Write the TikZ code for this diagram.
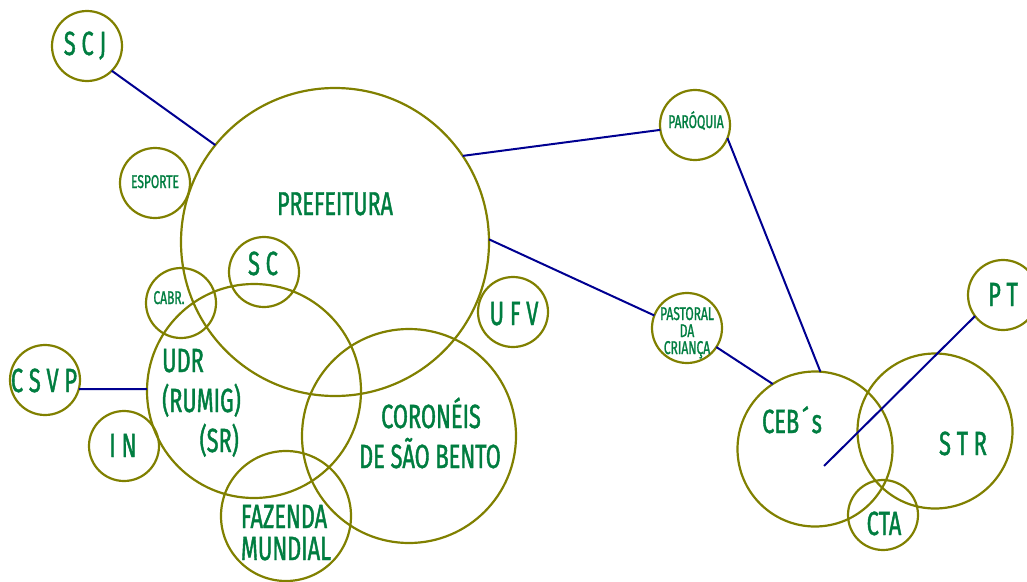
\documentclass[tikz,border=0pt]{standalone}
\usepackage{fontspec}
\setmainfont[FakeStretch=0.65,FakeBold=1.2]{Fira Sans}
\definecolor{olivering}{RGB}{128,128,0}
\definecolor{labelgreen}{RGB}{0,125,64}
\definecolor{linknavy}{RGB}{0,0,145}
\tikzset{
  ring/.style={circle, draw=olivering, line width=2.2pt, inner sep=0pt, outer sep=0pt, minimum size=#1},
  big/.style={text=labelgreen, inner sep=0pt, anchor=base, font=\fontsize{33.5}{38}\selectfont},
  mid/.style={text=labelgreen, inner sep=0pt, anchor=base, font=\fontsize{33}{36}\selectfont},
  small/.style={text=labelgreen, inner sep=0pt, anchor=base, font=\fontsize{18.5}{20}\selectfont},
  link/.style={draw=linknavy, line width=2pt}
}
\begin{document}
\begin{tikzpicture}[x=1pt,y=-1pt]
\useasboundingbox (0,0) rectangle (1027,581);
% circles
\node[ring=70pt] (scj) at (87,46) {};
\node[ring=70pt] (esp) at (155,183) {};
\node[ring=308pt] (pref) at (335,242) {};
\node[ring=70pt] (sc) at (264,272) {};
\node[ring=70pt] (cabr) at (181,303) {};
\node[ring=214pt] (udr) at (254,391) {};
\node[ring=70pt] (csvp) at (45,380) {};
\node[ring=70pt] (in) at (124,446) {};
\node[ring=214pt] (cor) at (409,436) {};
\node[ring=130pt] (faz) at (286,516) {};
\node[ring=70pt] (ufv) at (513,312) {};
\node[ring=70pt] (par) at (695,125) {};
\node[ring=70pt] (pas) at (687,328) {};
\node[ring=70pt] (pt) at (1003,295) {};
\node[ring=155pt] (ceb) at (815,449) {};
\node[ring=155pt] (str) at (935,431) {};
\node[ring=70pt] (cta) at (883,515) {};
% labels
\node[big] (tscj) at (85,55) {S C J};
\node[small] (tesp) at (155,188) {ESPORTE};
\node[mid] (tpref) at (335,215) {PREFEITURA};
\node[big] (tsc) at (263,275) {S C};
\node[small] (tcabr) at (169,304) {CABR.};
\node[big, anchor=base west] (tudra) at (162,372) {UDR};
\node[big, anchor=base west] (tudrb) at (162,412) {(RUMIG)};
\node[big, anchor=base east] (tudrc) at (239,452) {(SR)};
\node[big] (tcsvp) at (44,392) {C S V P};
\node[big] (tin) at (123,457) {I N};
\node[big] (tcora) at (431,428) {CORONÉIS};
\node[big] (tcorb) at (430,468) {DE SÃO BENTO};
\node[big] (tfaza) at (284,528) {FAZENDA};
\node[big] (tfazb) at (286,560) {MUNDIAL};
\node[big] (tufv) at (514,325) {U F V};
\node[small] (tpar) at (696,128) {PARÓQUIA};
\node[small] (tpasa) at (687,320) {PASTORAL};
\node[small] (tpasb) at (687,337) {DA};
\node[small] (tpasc) at (687,354) {CRIANÇA};
\node[big] (tpt) at (1003,306) {P T};
\node[big] (tceb) at (792,433) {CEB\hspace{3pt}´\hspace{3pt}s};
\node[big] (tstr) at (963,455) {S T R};
\node[big] (tcta) at (884,535) {CTA};
% connectors
\coordinate (ptend) at (824,466);
\draw[link] (scj.-45) -- (pref.141);
\draw[link] (pref.34) -- (par.188);
\draw[link] (pref.1) -- (pas.159);
\draw[link] (pas.-33) -- (ceb.123.5);
\draw[link] (par.-22) -- (ceb.86);
\draw[link] (csvp.-15) -- (udr.179);
\draw[link] (pt.-143) -- (ptend);
\end{tikzpicture}
\end{document}
